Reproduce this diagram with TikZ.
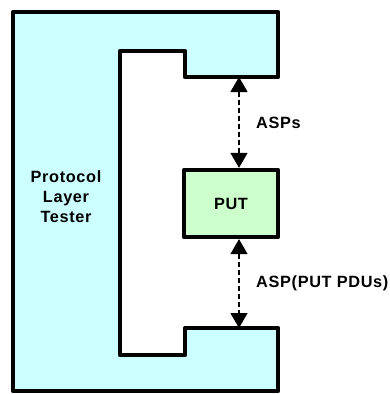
\documentclass[tikz,border=0pt]{standalone}
\usepackage{fontspec}
\setmainfont{Liberation Sans}[LetterSpace=4]
\usetikzlibrary{arrows.meta}
\definecolor{testercol}{HTML}{CCFFFF}
\definecolor{putcol}{HTML}{CCFFCC}
\tikzset{
  thick outline/.style={line width=4.3pt, line join=round, draw=black},
  lbl/.style={font=\fontsize{16.3}{19}\selectfont\bfseries, inner sep=0pt},
  asparrow/.style={dashed, dash pattern=on 5pt off 3pt, line width=1.4pt,
    {Triangle[length=15pt,width=17pt]}-{Triangle[length=15pt,width=17pt]}}
}
\begin{document}
\begin{tikzpicture}[x=1pt,y=-1pt]
\useasboundingbox (0,0) rectangle (390,394);
% tester shape
\coordinate (tTop) at (239,77);
\coordinate (tBot) at (239,328);
\path[thick outline, fill=testercol]
  (13,12) -- (278,12) -- (278,77) -- (185,77) -- (185,51) -- (120,51)
  -- (120,355) -- (185,355) -- (185,328) -- (278,328) -- (278,391)
  -- (13,391) -- cycle;
\node[lbl, align=center] (tester) at (66,197) {Protocol\\[1pt]Layer\\[1pt]Tester};
% PUT
\node[thick outline, fill=putcol, minimum width=94pt, minimum height=67pt,
  inner sep=0pt, font=\fontsize{16.3}{19}\selectfont\bfseries] (put) at (231,203.5) {PUT};
% arrows
\draw[asparrow] (tTop) -- (put.north -| tTop);
\draw[asparrow] (put.south -| tBot) -- (tBot);
\node[lbl, anchor=west] (asps) at (256,123) {ASPs};
\node[lbl, anchor=west] (asppdu) at (256,283) {ASP(PUT PDUs)};
\end{tikzpicture}
\end{document}
